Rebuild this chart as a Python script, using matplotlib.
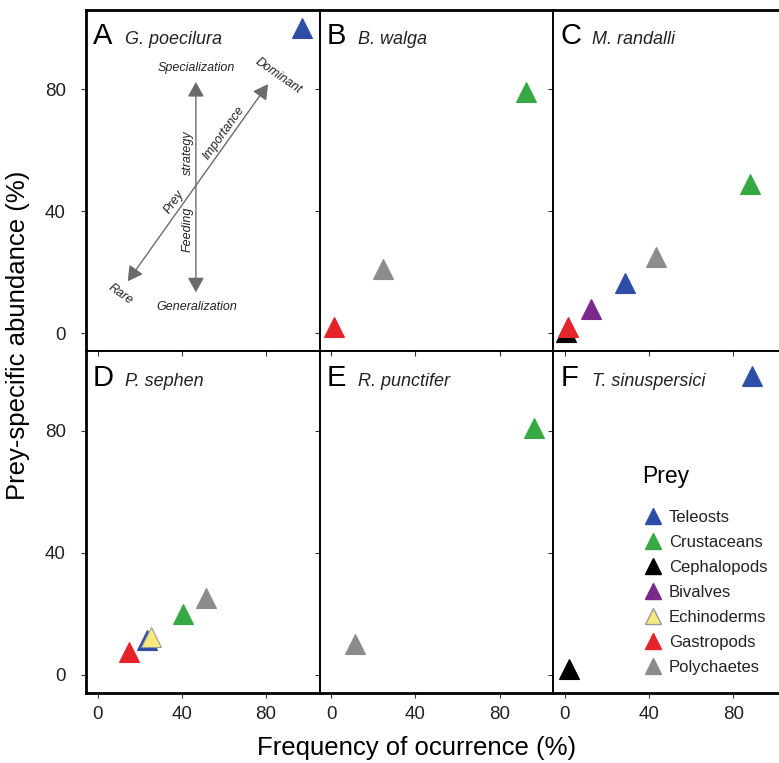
import matplotlib
matplotlib.use("Agg")
import matplotlib.pyplot as plt
from matplotlib.lines import Line2D

plt.rcParams["font.family"] = ["Liberation Sans", "DejaVu Sans"]

prey = ["Teleosts", "Crustaceans", "Cephalopods", "Bivalves",
        "Echinoderms", "Gastropods", "Polychaetes"]
prey_colors = {
    "Teleosts": "#2d4da6",
    "Crustaceans": "#36a844",
    "Cephalopods": "#000000",
    "Bivalves": "#7a2a8c",
    "Echinoderms": "#f6ea7c",
    "Gastropods": "#e4232a",
    "Polychaetes": "#8c8c8c",
}

letters = ["A", "B", "C", "D", "E", "F"]
species = ["G. poecilura", "B. walga", "M. randalli",
           "P. sephen", "R. punctifer", "T. sinuspersici"]

# frequency of occurrence (%) and prey-specific abundance (%) per predator
a_prey = ["Teleosts"]
a_freq = [97]
a_abund = [100]

b_prey = ["Crustaceans", "Polychaetes", "Gastropods"]
b_freq = [92.5, 24.5, 1.5]
b_abund = [79, 21, 2]

c_prey = ["Crustaceans", "Polychaetes", "Teleosts", "Bivalves", "Cephalopods", "Gastropods"]
c_freq = [88, 43.5, 28.5, 12.5, 0.5, 1.5]
c_abund = [49, 25, 16.5, 8, 0.5, 2]

d_prey = ["Polychaetes", "Crustaceans", "Teleosts", "Echinoderms", "Gastropods"]
d_freq = [51.5, 40.5, 23.5, 25.5, 15]
d_abund = [25, 20, 11.5, 12.5, 7.5]

e_prey = ["Crustaceans", "Polychaetes"]
e_freq = [96.5, 11.5]
e_abund = [81, 10]

f_prey = ["Teleosts", "Cephalopods"]
f_freq = [89, 2]
f_abund = [98, 2]

panels = [(a_prey, a_freq, a_abund), (b_prey, b_freq, b_abund),
          (c_prey, c_freq, c_abund), (d_prey, d_freq, d_abund),
          (e_prey, e_freq, e_abund), (f_prey, f_freq, f_abund)]

ticks = [0, 40, 80]

fig = plt.figure(figsize=(7.79, 7.63), dpi=100)
gs = fig.add_gridspec(2, 3, left=86 / 779, right=787 / 779,
                      top=1 - 10 / 763, bottom=1 - 693 / 763,
                      wspace=0, hspace=0)

axes = []
for i in range(6):
    r, c = divmod(i, 3)
    ax = fig.add_subplot(gs[r, c])
    ax.set_facecolor("none")
    ax.set_xlim(-5.5, 105.5)
    ax.set_ylim(-6, 106)
    ax.set_xticks(ticks)
    ax.set_yticks(ticks)
    ax.tick_params(direction="out", length=3.5, width=0.8, labelsize=13.5,
                   color="#333333", labelcolor="#222222")
    ax.tick_params(axis="y", pad=11)
    ax.tick_params(axis="x", pad=6)
    if r == 0:
        ax.tick_params(labelbottom=False)
    if c != 0:
        ax.tick_params(labelleft=False)
    for side, sp in ax.spines.items():
        sp.set_linewidth(1.2)
    ax.spines["top"].set_linewidth(2.0 if r == 0 else 1.2)
    ax.spines["bottom"].set_linewidth(2.0 if r == 1 else 1.2)
    if c == 0:
        ax.spines["left"].set_linewidth(2.0)

    names, fx, fy = panels[i]
    for name, x, y in zip(names, fx, fy):
        col = prey_colors[name]
        edge = "#999999" if name == "Echinoderms" else col
        ax.plot(x, y, marker="^", ms=15, color=col, mec=edge, mew=0.8,
                linestyle="none", clip_on=False)

    ax.text(0.03, 0.90, letters[i], transform=ax.transAxes, fontsize=21,
            va="baseline", ha="left")
    ax.text(0.165, 0.90, species[i], transform=ax.transAxes, fontsize=13,
            style="italic", va="baseline", ha="left", color="#222222")
    axes.append(ax)

# conceptual diagram in panel A
ax = axes[0]
arrow_col = "#6b6b6b"
aprops = dict(arrowstyle="<|-|>,head_length=0.9,head_width=0.5",
              color=arrow_col, lw=1.0, shrinkA=0, shrinkB=0)
ax.annotate("", xy=(46.7, 82.4), xytext=(46.7, 13.4), arrowprops=aprops)
ax.annotate("", xy=(81, 81.7), xytext=(14.3, 17.0), arrowprops=aprops)
small = dict(fontsize=9, style="italic", ha="center", va="center",
             color="#222222")
ax.text(47, 87, "Specialization", **small)
ax.text(47, 8.5, "Generalization", **small)
ax.text(86, 84.5, "Dominant", rotation=-35, **small)
ax.text(11, 12.7, "Rare", rotation=-35, **small)
ax.text(60, 65.7, "Importance", rotation=54.5, **small)
ax.text(36.2, 43.1, "Prey", rotation=54.5, **small)
ax.text(43.0, 59.2, "strategy", rotation=90, **small)
ax.text(43.0, 34, "Feeding", rotation=90, **small)

# legend in panel F
ax = axes[5]
handles = [Line2D([], [], marker="^", linestyle="none", ms=11,
                  color=prey_colors[p],
                  mec="#999999" if p == "Echinoderms" else prey_colors[p])
           for p in prey]
leg = ax.legend(handles, prey, loc="upper left", bbox_to_anchor=(0.394, 0.535),
                frameon=False, fontsize=12, handlelength=0.9, handletextpad=0.5,
                labelspacing=0.6, borderpad=0, borderaxespad=0)
for t in leg.get_texts():
    t.set_color("#222222")
ax.text(0.38, 0.633, "Prey", transform=ax.transAxes, fontsize=16.5,
        ha="left", va="center")

fig.text(18 / 779, 1 - 335 / 763, "Prey-specific abundance (%)",
         rotation=90, fontsize=18.5, ha="center", va="center")
fig.text(417 / 779, 1 - 748 / 763, "Frequency of ocurrence (%)",
         fontsize=18.5, ha="center", va="center")

fig.savefig("out.png", dpi=100)
